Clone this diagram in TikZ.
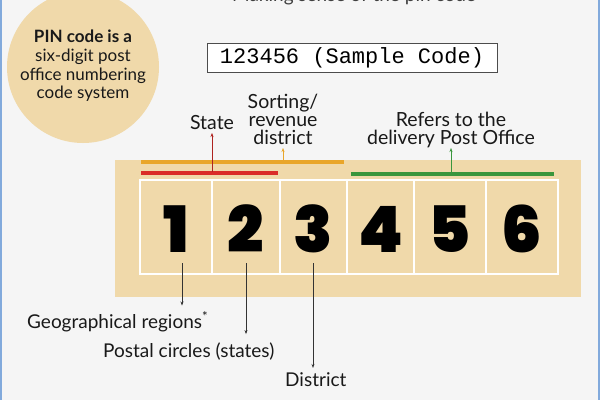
\documentclass[tikz,border=0pt]{standalone}
\usepackage{fontspec}
\setmainfont{Lato}
\newfontfamily\chiffres{Poppins Black}
\newfontfamily\codefont{Liberation Mono}
\usetikzlibrary{arrows.meta}

\definecolor{fondgris}{RGB}{245,245,245}
\definecolor{sable}{RGB}{240,217,170}
\definecolor{orangepin}{RGB}{233,166,42}
\definecolor{rougepin}{RGB}{218,44,40}
\definecolor{vertpin}{RGB}{58,150,60}
\definecolor{bordbleu}{RGB}{130,170,220}

\tikzset{
  etiquette/.style={font=\fontsize{19.5}{18}\selectfont, inner sep=3pt, text depth=0pt, align=center, text=black!90},
  bas/.style={font=\fontsize{19}{19}\selectfont, inner sep=0pt, text=black!90},
  chiffre/.style={font=\chiffres\fontsize{64}{64}\selectfont, anchor=base, inner sep=0pt},
  fleche/.style={-{Stealth[length=4pt,width=3pt]}, line width=0.6pt},
  barre/.style={line width=4pt},
}

\begin{document}
\begin{tikzpicture}[x=1pt,y=-1pt]
      \useasboundingbox (0,0) rectangle (600,400);
      \clip (0,0) rectangle (600,400);

      %fond
      \fill[fondgris] (0,0) rectangle (600,400);
      \draw[bordbleu, line width=1.5pt] (1,0) -- (1,400);
      \draw[bordbleu, line width=1.5pt] (599,0) -- (599,400);

      %titre coupe
      \node (titre) at (354,1) [anchor=base, font=\fontsize{19}{19}\selectfont, text=black!75] {Making sense of the pin code};

      %cercle
      \fill[sable] (83,67) circle (76pt);
      \node (pin) at (83,66) [align=center, inner sep=0pt, font=\fontsize{17}{18.7}\selectfont, text=black!90]
        {\bfseries PIN code is a\\six-digit post\\\mdseries office numbering\\code system};

      %code exemple
      \node (code) at (352,58) [draw=black!70, fill=white, line width=0.8pt, minimum width=290pt,
        minimum height=29pt, inner sep=0pt, font=\codefont\fontsize{22}{22}\selectfont] {123456 (Sample Code)};

      %panneau
      \fill[sable] (115,160) rectangle (581,297);
      \draw[barre, orangepin] (141,162) -- (344,162);
      \draw[barre, rougepin] (141,173) -- (278,173);
      \draw[barre, vertpin] (351,174) -- (554,174);
      \coordinate (rouge) at (212,172);
      \coordinate (orange) at (283,161);
      \coordinate (vert) at (451,173);

      %grille
      \draw[white, line width=1.5pt] (140,180) rectangle (558,274);
      \foreach \x in {212,280,347,414,486}
        \draw[white, line width=1.5pt] (\x,180) -- (\x,274);

      %chiffres
      \foreach \c/\x in {1/176,2/246,3/313,4/381,5/450,6/522}
        \node (d\c) at (\x,252) [chiffre] {\c};

      %etiquettes du haut
      \node (state) at (212,133) [etiquette, anchor=south] {State};
      \node (tri) at (283,148) [etiquette, anchor=south] {Sorting/\\revenue\\district};
      \node (bureau) at (451,148) [etiquette, anchor=south] {Refers to the\\delivery Post Office};
      \draw[fleche, rougepin!80!black, line width=0.5pt] (rouge) -- (state);
      \draw[fleche, orangepin, line width=0.5pt] (orange) -- (tri);
      \draw[fleche, vertpin, line width=0.5pt] (vert) -- (bureau);

      %etiquettes du bas
      \node (geo) at (27,328) [bas, anchor=base west] {Geographical regions\textsuperscript{*}};
      \node (postal) at (103,357) [bas, anchor=base west] {Postal circles (states)};
      \node (district) at (285,386) [bas, anchor=base west] {District};
      \coordinate (b1) at (182,263);
      \coordinate (b2) at (246,263);
      \coordinate (b3) at (313,263);
      \draw[fleche, black!80, shorten >=6pt] (b1) -- (b1 |- geo.north);
      \draw[fleche, black!80, shorten >=8pt] (b2) -- (b2 |- postal.north);
      \draw[fleche, black!80, shorten >=4pt] (b3) -- (b3 |- district.north);
    \end{tikzpicture}
\end{document}
